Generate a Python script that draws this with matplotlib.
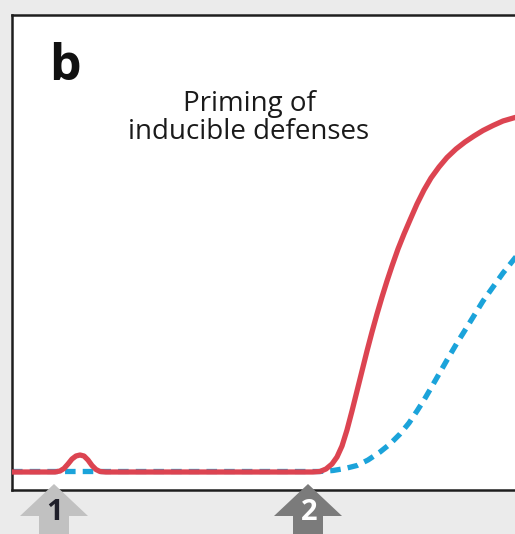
import matplotlib
matplotlib.use("Agg")
import matplotlib.pyplot as plt
from matplotlib.patches import Polygon

# ---- data (time vs. defense response, arbitrary units) ----
primed_t = [0, 43, 48, 52, 56, 60, 64, 68, 72, 76, 80, 84, 88, 94, 200, 300, 308, 314,
            320, 325, 330, 335, 340, 345, 350, 355, 360, 365, 370, 375, 380, 386, 392,
            398, 405, 412, 419, 427, 435, 444, 453, 462, 471, 481, 491, 503, 518]
primed_r = [18, 18, 19, 21.5, 26, 31, 34, 35, 34, 30, 24.5, 20.5, 18.5, 18, 18, 18, 18.5, 21,
            26, 33, 44, 60, 79, 99, 119, 139, 158, 176, 193, 209, 224, 241, 256,
            270, 286, 300, 312, 323, 332.5, 341, 348, 354, 359.5, 364.5, 369, 372.5, 374.5]

naive_t = [0, 308, 321, 333, 345, 356, 368, 378, 388, 397, 405, 412, 419, 427, 435,
           445, 455, 463, 471, 481, 491, 503, 518]
naive_r = [18.5, 18.5, 19.5, 21.5, 24.5, 30, 38, 46, 56, 67, 79, 90, 102, 116, 130, 147, 163,
           176, 189, 203, 217, 232, 250]

title_text = "Priming of\ninducible defenses"
panel_label = "b"
arrow_labels = ["1", "2"]

RED = "#dc4451"
BLUE = "#1ba3da"

fig = plt.figure(figsize=(5.15, 5.34), dpi=100, facecolor="#ebebeb")
W, H = 515, 534
ax = fig.add_axes([12 / W, 1 - 490 / H, (535 - 12) / W, (490 - 15) / H])
ax.set_facecolor("white")
ax.set_xlim(0, 523)
ax.set_ylim(0, 475)
ax.set_xticks([])
ax.set_yticks([])
for s in ax.spines.values():
    s.set_linewidth(1.8)
    s.set_color("#1e1e1e")

ax.plot(naive_t, naive_r, color=BLUE, lw=3.8, dashes=(2.0, 1.35),
        dash_capstyle="butt", solid_joinstyle="round", zorder=2)
ax.plot(primed_t, primed_r, color=RED, lw=3.8, solid_capstyle="round",
        solid_joinstyle="round", zorder=3)

ax.text(49 - 12, 490 - 67, panel_label, fontsize=36, fontweight="bold",
        family="Open Sans", color="#111111", ha="left", va="center")
ax.text(249 - 12, 490 - 118, title_text, fontsize=20, family="Open Sans",
        color="#1a1a1a", ha="center", va="center", linespacing=1.0)

# overlay for arrows (pixel layout)
ov = fig.add_axes([0, 0, 1, 1], facecolor="none")
ov.set_xlim(0, W)
ov.set_ylim(H, 0)
ov.axis("off")

def up_arrow(cx, color, label, tcolor):
    tip_y, base_y = 484, 516
    hw, sw = 34, 15
    verts = [(cx, tip_y), (cx + hw, base_y), (cx + sw, base_y), (cx + sw, H + 5),
             (cx - sw, H + 5), (cx - sw, base_y), (cx - hw, base_y)]
    ov.add_patch(Polygon(verts, closed=True, facecolor=color, edgecolor="none", zorder=5))
    ov.text(cx + 1, 512, label, fontsize=21, fontweight="bold", family="Open Sans",
            color=tcolor, ha="center", va="center", zorder=6)

up_arrow(54, "#c1c1c1", arrow_labels[0], "#1f1f2a")
up_arrow(308, "#7b7b7b", arrow_labels[1], "white")

fig.savefig("out.png", dpi=100, facecolor=fig.get_facecolor())
